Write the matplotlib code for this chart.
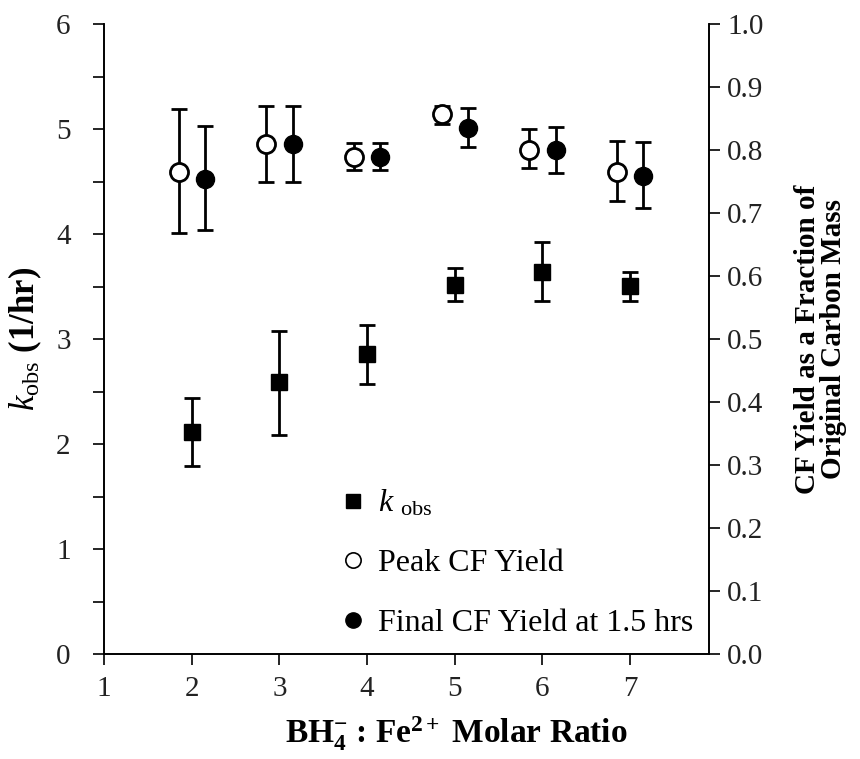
import numpy as np
import matplotlib.pyplot as plt
from matplotlib.lines import Line2D

plt.rcParams['font.family'] = ['Liberation Serif', 'DejaVu Serif']
plt.rcParams['mathtext.fontset'] = 'custom'
plt.rcParams['mathtext.rm'] = 'Liberation Serif'
plt.rcParams['mathtext.it'] = 'Liberation Serif:italic'
plt.rcParams['mathtext.bf'] = 'Liberation Serif:bold'

# BH4- : Fe2+ molar ratio
ratio = np.array([2, 3, 4, 5, 6, 7])

# k_obs (1/hr) with error bar ends
k_obs = [2.12, 2.59, 2.86, 3.52, 3.64, 3.51]
k_lo = [1.79, 2.09, 2.57, 3.36, 3.36, 3.36]
k_hi = [2.44, 3.08, 3.14, 3.68, 3.93, 3.64]

# peak CF yield (fraction of original carbon mass)
peak = [0.765, 0.810, 0.789, 0.857, 0.801, 0.766]
peak_lo = [0.668, 0.749, 0.769, 0.841, 0.772, 0.719]
peak_hi = [0.865, 0.871, 0.811, 0.871, 0.834, 0.814]

# final CF yield at 1.5 hrs
final = [0.755, 0.810, 0.789, 0.836, 0.800, 0.759]
final_lo = [0.674, 0.749, 0.769, 0.806, 0.764, 0.708]
final_hi = [0.839, 0.871, 0.811, 0.867, 0.837, 0.813]

fig = plt.figure(figsize=(8.6, 7.59), dpi=100)
ax = fig.add_axes([0.121, 0.138, 0.7035, 0.830])
ax2 = ax.twinx()

eb = dict(capsize=6, elinewidth=2, capthick=2, ecolor='black', linestyle='none')

k_err = [np.array(k_obs) - np.array(k_lo), np.array(k_hi) - np.array(k_obs)]
ax.errorbar(ratio, k_obs, yerr=k_err, fmt='s', ms=11, mfc='black', mec='black', **eb)

p_err = [np.array(peak) - np.array(peak_lo), np.array(peak_hi) - np.array(peak)]
f_err = [np.array(final) - np.array(final_lo), np.array(final_hi) - np.array(final)]
ax2.errorbar(ratio - 0.15, peak, yerr=p_err, fmt='o', ms=13, mfc='white', mec='black', mew=2, **eb)
ax2.errorbar(ratio + 0.15, final, yerr=f_err, fmt='o', ms=13, mfc='black', mec='black', **eb)

ax.set_xlim(1, 7.9)
ax.set_ylim(0, 6)
ax2.set_ylim(0, 1.0)
ax.set_xticks(range(1, 8))
ax.set_yticks(np.arange(0, 6.01, 0.5))
ax.set_yticklabels([str(int(v)) if v == int(v) else '' for v in np.arange(0, 6.01, 0.5)])
ax2.set_yticks(np.arange(0, 1.01, 0.1))
ax2.set_yticklabels(['%.1f' % v for v in np.arange(0, 1.01, 0.1)])

for a in (ax, ax2):
    a.spines['top'].set_visible(False)
    a.tick_params(direction='out', length=8, width=1.2, labelsize=21, labelcolor='#222222')
    for s in a.spines.values():
        s.set_linewidth(1.2)
ax.tick_params(axis='x', pad=8)
ax.tick_params(axis='y', pad=16)
ax2.tick_params(axis='y', pad=5)

ax.set_xlabel(r'BH$_\mathbf{4}^{\mathbf{-}}$ : Fe$^{\mathbf{2+}}$ Molar Ratio',
              fontsize=24, fontweight='bold')
ax.xaxis.set_label_coords(0.582, -0.095)
ax.set_ylabel(r'$k_{\mathrm{obs}}$ (1/hr)', fontsize=25, fontweight='bold')
ax.yaxis.set_label_coords(-0.10, 0.5)
ax2.set_ylabel('CF Yield as a Fraction of\nOriginal Carbon Mass', fontsize=21,
               fontweight='bold', rotation=90, linespacing=0.95)
ax2.yaxis.set_label_coords(1.14, 0.5)

handles = [
    Line2D([], [], marker='s', ls='none', ms=10, mfc='black', mec='black'),
    Line2D([], [], marker='o', ls='none', ms=11, mfc='white', mec='black', mew=1.2),
    Line2D([], [], marker='o', ls='none', ms=11, mfc='black', mec='black'),
]
labels = [r'$k$ $_{\mathrm{obs}}$', 'Peak CF Yield', 'Final CF Yield at 1.5 hrs']
ax2.legend(handles, labels, loc='lower left', bbox_to_anchor=(0.345, -0.02), frameon=False,
           fontsize=23, labelspacing=0.95, handlelength=0.7, handletextpad=0.45)

fig.savefig('out.png', dpi=100)
